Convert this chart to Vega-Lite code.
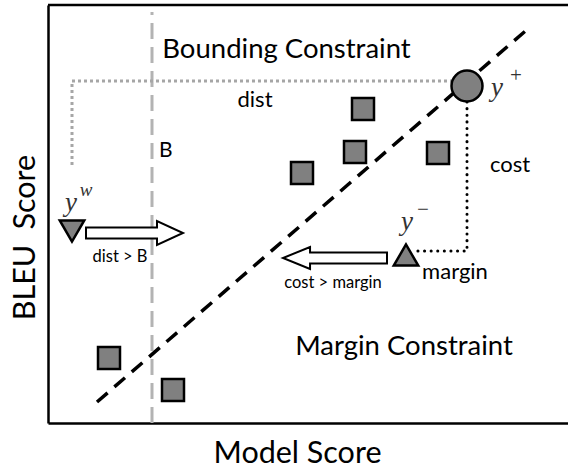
{
  "$schema": "https://vega.github.io/schema/vega-lite/v6.json",
  "width": 520,
  "height": 418,
  "autosize": "none",
  "padding": {"left": 48, "top": 5, "right": 0, "bottom": 47},
  "background": "white",
  "config": {
    "view": {"stroke": null},
    "axis": {"ticks": false, "labels": false, "grid": false, "domainColor": "black", "domainWidth": 2.5, "titleFont": "Lato", "titleFontSize": 30.5, "titleFontWeight": "normal", "titleColor": "black"}
  },
  "encoding": {
    "x": {"field": "x", "type": "quantitative", "scale": {"domain": [0, 520], "nice": false, "zero": false}, "axis": {"title": "Model Score", "titlePadding": 15, "titleX": 249}},
    "y": {"field": "y", "type": "quantitative", "scale": {"domain": [0, 418], "nice": false, "zero": false}, "axis": {"title": "BLEU\u2002Score", "titlePadding": 8, "titleY": 232}}
  },
  "layer": [
    {
      "data": {"values": [{"x": 0, "y": 418, "o": 0}, {"x": 520, "y": 418, "o": 1}]},
      "mark": {"type": "line", "color": "black", "strokeWidth": 2.5, "clip": false},
      "encoding": {"order": {"field": "o"}}
    },
    {
      "data": {"values": [{"x": 104, "y": 0, "o": 0}, {"x": 104, "y": 411, "o": 1}]},
      "mark": {"type": "line", "color": "#b3b3b3", "strokeWidth": 3, "strokeDash": [16, 8]},
      "encoding": {"order": {"field": "o"}}
    },
    {
      "data": {"values": [{"x": 24, "y": 258, "o": 1}, {"x": 24, "y": 342, "o": 2}, {"x": 404, "y": 342, "o": 3}]},
      "mark": {"type": "line", "color": "#a6a6a6", "strokeWidth": 3, "strokeDash": [3, 3]},
      "encoding": {"order": {"field": "o"}}
    },
    {
      "data": {"values": [{"x": 49, "y": 21, "o": 0}, {"x": 482, "y": 396, "o": 1}]},
      "mark": {"type": "line", "color": "black", "strokeWidth": 3.5, "strokeDash": [14, 9]},
      "encoding": {"order": {"field": "o"}}
    },
    {
      "data": {"values": [{"x": 419, "y": 321, "o": 1}, {"x": 419, "y": 172, "o": 2}, {"x": 369, "y": 172, "o": 3}]},
      "mark": {"type": "line", "color": "black", "strokeWidth": 3, "strokeDash": [0.1, 6.5], "strokeCap": "round"},
      "encoding": {"order": {"field": "o"}}
    },
    {
      "data": {"values": [{"x": 315, "y": 314}, {"x": 307, "y": 271}, {"x": 390, "y": 270}, {"x": 254, "y": 250}, {"x": 61, "y": 65}, {"x": 125, "y": 33}]},
      "mark": {"type": "square", "size": 484, "fill": "#808080", "stroke": "black", "strokeWidth": 2.5, "opacity": 1}
    },
    {
      "data": {"values": [{"x": 419, "y": 337}]},
      "mark": {"type": "circle", "size": 961, "fill": "#808080", "stroke": "black", "strokeWidth": 2.5, "opacity": 1}
    },
    {
      "data": {"values": [{"x": 24, "y": 192}]},
      "mark": {"type": "point", "shape": "triangle-down", "size": 600, "filled": true, "fill": "#808080", "stroke": "black", "strokeWidth": 2.5, "opacity": 1}
    },
    {
      "data": {"values": [{"x": 358, "y": 168}]},
      "mark": {"type": "point", "shape": "triangle-up", "size": 600, "filled": true, "fill": "#808080", "stroke": "black", "strokeWidth": 2.5, "opacity": 1}
    },
    {
      "data": {"values": [{"x": 86.5, "y": 190}]},
      "mark": {"type": "point", "shape": "M-1,-0.113L0.464,-0.113L0.464,-0.247L1,0L0.464,0.247L0.464,0.113L-1,0.113Z", "size": 9409, "filled": true, "fill": "white", "stroke": "black", "strokeWidth": 2, "opacity": 1}
    },
    {
      "data": {"values": [{"x": 287, "y": 165}]},
      "mark": {"type": "point", "shape": "M1,-0.106L-0.48,-0.106L-0.48,-0.212L-1,0L-0.48,0.212L-0.48,0.106L1,0.106Z", "size": 10816, "filled": true, "fill": "white", "stroke": "black", "strokeWidth": 2, "opacity": 1}
    },
    {
      "data": {"values": [{"x": 238.5, "y": 373, "t": "Bounding Constraint"}, {"x": 356, "y": 76, "t": "Margin Constraint"}]},
      "mark": {"type": "text", "font": "Lato", "fontSize": 27.5, "color": "black", "baseline": "middle", "align": "center"},
      "encoding": {"text": {"field": "t"}}
    },
    {
      "data": {"values": [{"x": 207, "y": 323, "t": "dist"}, {"x": 462, "y": 258, "t": "cost"}, {"x": 407, "y": 151, "t": "margin"}]},
      "mark": {"type": "text", "font": "Lato", "fontSize": 22, "color": "black", "baseline": "middle", "align": "center"},
      "encoding": {"text": {"field": "t"}}
    },
    {
      "data": {"values": [{"x": 111, "y": 272, "t": "B"}]},
      "mark": {"type": "text", "font": "Lato", "fontSize": 21, "color": "black", "baseline": "middle", "align": "left"},
      "encoding": {"text": {"field": "t"}}
    },
    {
      "data": {"values": [{"x": 72, "y": 166, "t": "dist > B"}, {"x": 285, "y": 140, "t": "cost > margin"}]},
      "mark": {"type": "text", "font": "Lato", "fontSize": 16.5, "color": "black", "baseline": "middle", "align": "center"},
      "encoding": {"text": {"field": "t"}}
    },
    {
      "data": {"values": [{"x": 449, "y": 335, "t": "y"}, {"x": 23, "y": 220, "t": "y"}, {"x": 359, "y": 201, "t": "y"}]},
      "mark": {"type": "text", "font": "Liberation Serif", "fontStyle": "italic", "fontSize": 27, "color": "#333333", "baseline": "middle", "align": "center"},
      "encoding": {"text": {"field": "t"}}
    },
    {
      "data": {"values": [{"x": 38, "y": 233, "t": "w"}]},
      "mark": {"type": "text", "font": "Liberation Serif", "fontStyle": "italic", "fontSize": 19, "color": "#333333", "baseline": "middle", "align": "center"},
      "encoding": {"text": {"field": "t"}}
    },
    {
      "data": {"values": [{"x": 468, "y": 347, "t": "+"}, {"x": 375, "y": 213, "t": "−"}]},
      "mark": {"type": "text", "font": "Liberation Serif", "fontSize": 21, "color": "#333333", "baseline": "middle", "align": "center"},
      "encoding": {"text": {"field": "t"}}
    }
  ]
}
